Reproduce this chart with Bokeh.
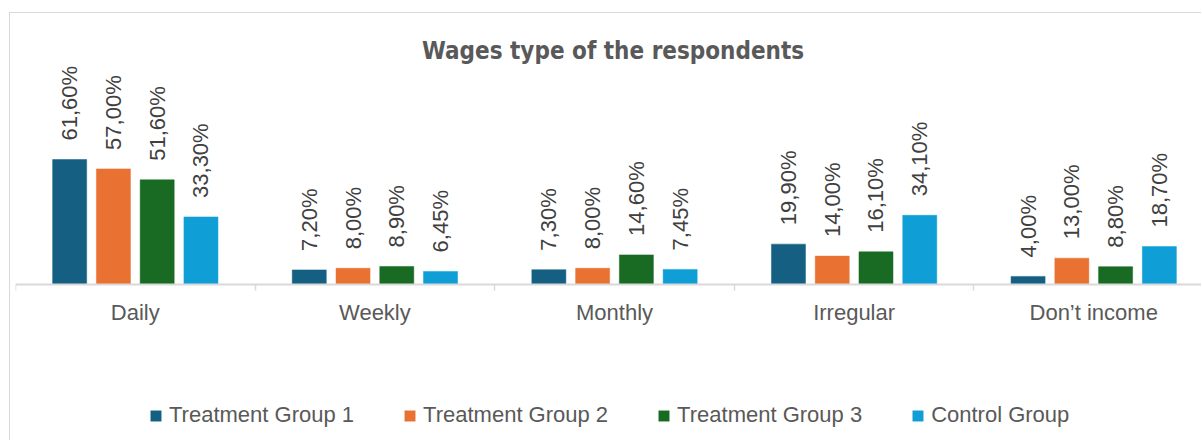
import math
from bokeh.plotting import figure
from bokeh.models import (ColumnDataSource, FixedTicker, Label, Legend, LegendItem,
                          LinearAxis, Range1d)
from bokeh.core.properties import value
from bokeh.embed import file_html
from bokeh.resources import INLINE

categories = ["Daily", "Weekly", "Monthly", "Irregular", "Don\u2019t income"]
series_names = ["Treatment Group 1", "Treatment Group 2", "Treatment Group 3", "Control Group"]
treatment_1 = [61.6, 7.2, 7.3, 19.9, 4.0]
treatment_2 = [57.0, 8.0, 8.0, 14.0, 13.0]
treatment_3 = [51.6, 8.9, 14.6, 16.1, 8.8]
control = [33.3, 6.45, 7.45, 34.1, 18.7]
series_values = [treatment_1, treatment_2, treatment_3, control]
colors = ["#156082", "#E97132", "#196B24", "#0F9ED5"]
title_text = "Wages type of the respondents"

FONT = "Liberation Sans"

p = figure(width=1192, height=428, output_backend="svg", toolbar_location=None,
           x_range=Range1d(0, 4.954), y_range=Range1d(-77.4, 133.6),
           x_axis_location=None, y_axis_location=None,
           min_border_left=5, min_border_right=0,
           min_border_top=0, min_border_bottom=0)
p.styles = {"border-left": "1px solid #d9d9d9", "border-top": "1px solid #d9d9d9",
            "margin-top": "12px", "margin-left": "9px"}
p.outline_line_color = None
p.xgrid.visible = False
p.ygrid.visible = False
p.background_fill_color = "white"
p.border_fill_color = "white"

offsets = [-0.274, -0.0913, 0.0913, 0.274]
bar_w = 0.142
items = []
for j, (name, vals, col) in enumerate(zip(series_names, series_values, colors)):
    xs = [i + 0.5 + offsets[j] for i in range(len(categories))]
    labels = [f"{v:.2f}".replace(".", ",") + "%" for v in vals]
    src = ColumnDataSource(dict(x=xs, top=vals, lab=labels))
    r = p.vbar(x="x", top="top", width=bar_w, bottom=0, source=src,
               fill_color=col, line_color=col, line_width=0.5)
    p.text(x="x", y="top", text="lab", source=src, angle=math.pi / 2,
           text_align="left", text_baseline="middle", y_offset=-19,
           text_font=value(FONT), text_font_size="22px", text_color="#404040")
    items.append(LegendItem(label=name, renderers=[r]))

ax = LinearAxis(fixed_location=0)
ax.ticker = FixedTicker(ticks=[i + 0.5 for i in range(len(categories))],
                        minor_ticks=list(range(len(categories) + 1)))
ax.major_label_overrides = {i + 0.5: c for i, c in enumerate(categories)}
ax.major_tick_line_color = None
ax.major_tick_out = 0
ax.major_tick_in = 0
ax.minor_tick_line_color = "#d9d9d9"
ax.minor_tick_line_width = 1.5
ax.minor_tick_out = 6
ax.minor_tick_in = 0
ax.axis_line_color = "#d9d9d9"
ax.axis_line_width = 2
ax.major_label_text_font = FONT
ax.major_label_text_font_size = "22px"
ax.major_label_text_color = "#595959"
ax.major_label_standoff = 10
p.add_layout(ax, "below")

p.add_layout(Label(x=2.494, y=115.3, text=title_text, text_align="center",
                   text_baseline="middle", text_font="DejaVu Sans Condensed",
                   text_font_style="bold", text_font_size="24px",
                   text_color="#595959"))

legend = Legend(items=items, orientation="horizontal", location=(134, 13),
                glyph_width=13, glyph_height=13, label_standoff=7, spacing=49,
                padding=0, margin=0, border_line_color=None,
                background_fill_alpha=0, label_text_font=FONT,
                label_text_font_size="22px", label_text_color="#595959")
p.add_layout(legend, "center")

open("out.html", "w").write(file_html(p, INLINE))
